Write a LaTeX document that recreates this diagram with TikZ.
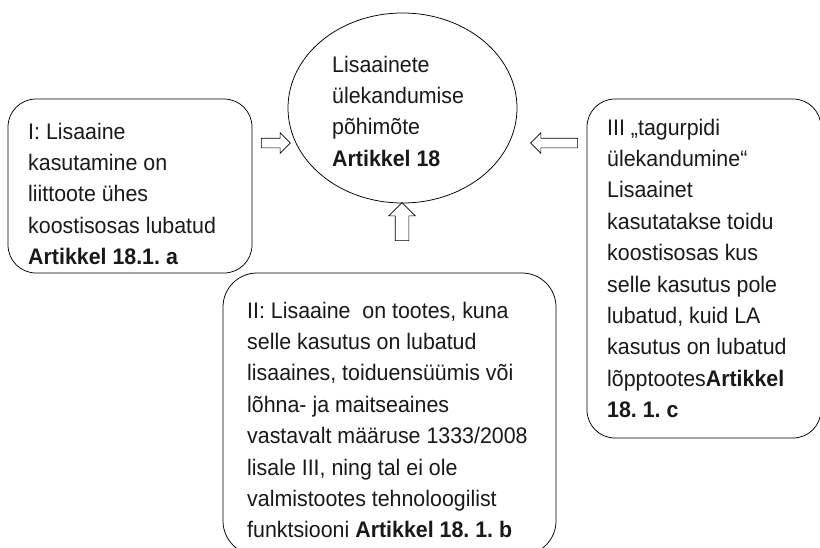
\documentclass[tikz,border=0pt]{standalone}
\usepackage{fontspec}
\setmainfont{Liberation Sans}[FakeStretch=0.95]
\usetikzlibrary{shapes.geometric,shapes.arrows}
\begin{document}
\frenchspacing
\begin{tikzpicture}[x=1pt,y=-1pt,
  box/.style={draw,rounded corners=#1,line width=0.75pt,inner sep=0pt},
  txt/.style={anchor=north west,inner sep=0pt,align=left,
    font=\fontsize{22.5}{31.4}\selectfont,text=black!90},
  blockarrow/.style 2 args={draw,single arrow,line width=0.6pt,inner sep=#1,
    single arrow head extend=#2}]
\useasboundingbox (0,0) rectangle (820,547);
% shapes
\node [ellipse,draw,line width=0.75pt,minimum width=229pt,minimum height=190pt] (main) at (402.5,108) {};
\node [box=28pt,minimum width=244pt,minimum height=174pt] (left) at (130,186) {};
\node [box=34pt,minimum width=333pt,minimum height=282pt] (bottom) at (389.5,414) {};
\node [box=28pt,minimum width=234pt,minimum height=339pt] (right) at (704,268.5) {};
% texts
\node [txt] (maintext) at (332,50) {\strut Lisaainete\\ülekandumise\\põhimõte\\\textbf{Artikkel 18}};
\node [txt] (lefttext) at (28,117) {\strut I: Lisaaine\\kasutamine on\\liittoote ühes\\koostisosas lubatud\\\textbf{Artikkel 18.1. a}};
\node [txt] (bottomtext) at (247,296) {\strut II: Lisaaine~ on tootes, kuna\\selle kasutus on lubatud\\lisaaines, toiduensüümis või\\lõhna- ja maitseaines\\vastavalt määruse 1333/2008\\lisale III, ning tal ei ole\\valmistootes tehnoloogilist\\funktsiooni \textbf{Artikkel 18. 1. b}};
\node [txt] (righttext) at (607,113) {\strut III „tagurpidi\\ülekandumine“\\Lisaainet\\kasutatakse toidu\\koostisosas kus\\selle kasutus pole\\lubatud, kuid LA\\kasutus on lubatud\\lõpptootes\textbf{Artikkel}\\\textbf{18. 1. c}};
% arrows
\node [blockarrow={4.5pt}{5.5pt},minimum height=29pt] (leftarrow) at (273.5,143) {};
\node [blockarrow={4.5pt}{5.5pt},minimum height=47pt,shape border rotate=180] (rightarrow) at (556.5,143) {};
\node [blockarrow={6.5pt}{6.5pt},minimum height=38pt,shape border rotate=90] (bottomarrow) at (402,225) {};
\end{tikzpicture}
\end{document}
